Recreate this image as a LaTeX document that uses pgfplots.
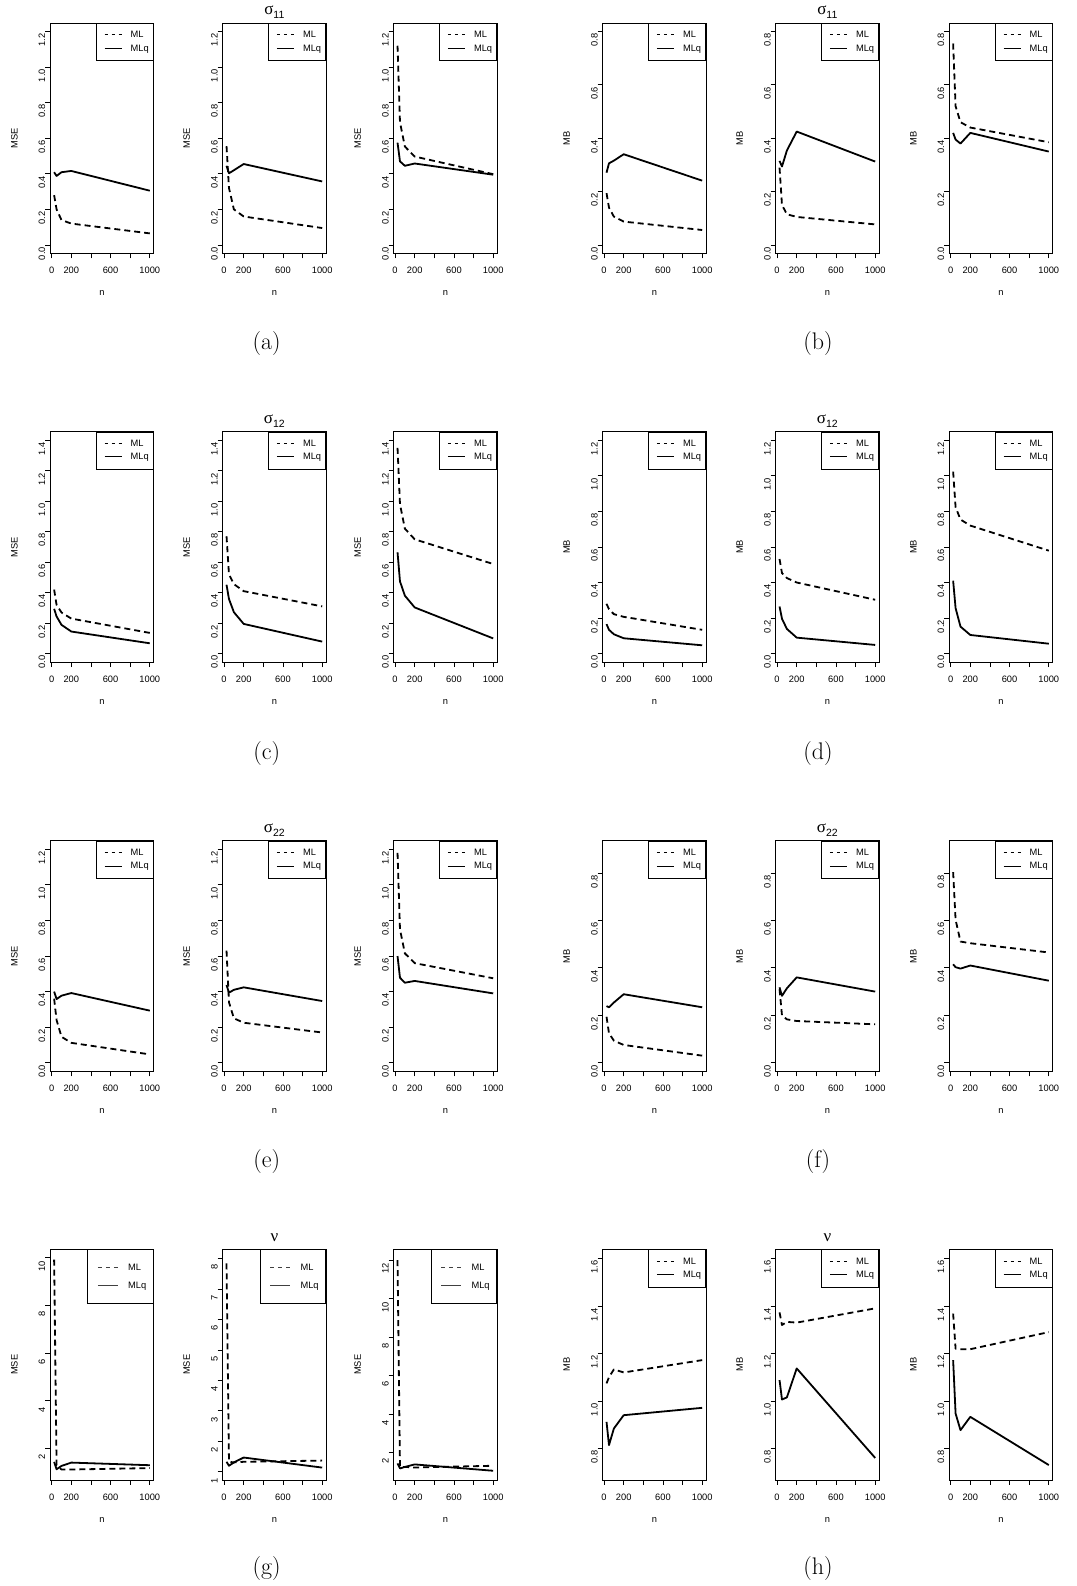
\documentclass[border=0pt]{standalone}
\usepackage{pgfplots}
\pgfplotsset{compat=1.18}
\usepackage{fontspec}
\newfontfamily\rfont{Liberation Sans}
\newfontfamily\grfont{Liberation Serif}
\newcommand\tickfont{\rfont\fontsize{9.3}{9.3}\selectfont}
\newcommand\gtitle[2]{{\grfont\fontsize{17}{17}\selectfont #1}\raisebox{-3.5pt}{\rfont\fontsize{10.5}{10.5}\selectfont #2}}
\pgfplotsset{
 rbase/.style={
  anchor=south west, scale only axis, width=103.3pt, height=230.5pt,
  xmin=-14, xmax=1039,
  xtick={0,200,400,600,800,1000}, xticklabels={0,200,,600,,1000},
  axis line style={line width=0.8pt},
  every tick/.style={black, line width=0.8pt},
  tick align=outside, major tick length=5pt,
  xtick pos=left, ytick pos=left,
  ticklabel style={font=\tickfont},
  xticklabel style={anchor=north, inner sep=0pt, text height=6.7pt, text depth=0pt, yshift=-8.6pt},
  yticklabel style={rotate=90, anchor=south, inner sep=0pt, text height=6.7pt, text depth=0pt, xshift=-8.6pt},
  every axis x label/.style={at={(axis description cs:0.5,-0.1735)}, anchor=center, font=\tickfont},
  every axis y label/.style={at={(axis description cs:-0.348,0.5)}, rotate=90, anchor=center, font=\tickfont},
  xlabel={n},
  every axis title/.style={at={(0.5,1)}, anchor=base, yshift=8pt},
  legend style={at={(1,1)}, anchor=north east, draw=black, line width=0.8pt, fill=white,
    inner xsep=4.5pt, inner ysep=6.8pt, row sep=3.3pt, column sep=8.4pt, font=\tickfont,
    cells={anchor=base west}, nodes={inner sep=0pt, text height=6.5pt, text depth=1.9pt}},
 },
 bigleg/.style={legend style={inner xsep=7pt, inner ysep=13pt, row sep=7.6pt, column sep=10pt}},
 ml/.style={black, line width=1.8pt, dash pattern=on 6pt off 4pt, line join=round,
   legend image code/.code={\path (0pt,-1.9pt) (0pt,6.5pt); \draw[black, line width=0.7pt, dash pattern=on 3.3pt off 3.7pt] (3.2pt,3pt) -- (20.5pt,3pt);}},
 mlq/.style={black, line width=1.8pt, line join=round,
   legend image code/.code={\path (0pt,-1.9pt) (0pt,6.5pt); \draw[black, line width=0.7pt] (3.2pt,3pt) -- (20.5pt,3pt);}},
 mlb/.style={black, line width=1.8pt, dash pattern=on 6pt off 4pt, line join=round,
   legend image code/.code={\path (0pt,-1.9pt) (0pt,6.5pt); \draw[black!75, line width=0.7pt, dash pattern=on 3.8pt off 4.3pt] (2pt,3pt) -- (22pt,3pt);}},
 mlqb/.style={black, line width=1.8pt, line join=round,
   legend image code/.code={\path (0pt,-1.9pt) (0pt,6.5pt); \draw[black!75, line width=0.7pt] (2pt,3pt) -- (22pt,3pt);}},
 mse12/.style={ymin=-0.048, ymax=1.248, ytick={0,0.2,0.4,0.6,0.8,1,1.2}, yticklabels={0.0,0.2,0.4,0.6,0.8,1.0,1.2}, ylabel={MSE}},
 mse14/.style={ymin=-0.056, ymax=1.456, ytick={0,0.2,0.4,0.6,0.8,1,1.2,1.4}, yticklabels={0.0,0.2,0.4,0.6,0.8,1.0,1.2,1.4}, ylabel={MSE}},
 mb08/.style={ymin=-0.032, ymax=0.832, ytick={0,0.2,0.4,0.6,0.8}, yticklabels={0.0,0.2,0.4,0.6,0.8}, ylabel={MB}},
 mb09/.style={ymin=-0.036, ymax=0.936, ytick={0,0.2,0.4,0.6,0.8}, yticklabels={0.0,0.2,0.4,0.6,0.8}, ylabel={MB}},
 mb12/.style={ymin=-0.048, ymax=1.248, ytick={0,0.2,0.4,0.6,0.8,1,1.2}, yticklabels={0.0,0.2,0.4,0.6,0.8,1.0,1.2}, ylabel={MB}},
 mseA/.style={ymin=0.68, ymax=10.35, ytick={2,4,6,8,10}, yticklabels={2,4,6,8,10}, ylabel={MSE}},
 mseB/.style={ymin=0.733, ymax=8.295, ytick={1,2,3,4,5,6,7,8}, yticklabels={1,2,3,4,5,6,7,8}, ylabel={MSE}},
 mseC/.style={ymin=0.57, ymax=12.556, ytick={2,4,6,8,10,12}, yticklabels={2,4,6,8,10,12}, ylabel={MSE}},
 mb16/.style={ymin=0.667, ymax=1.638, ytick={0.8,1,1.2,1.4,1.6}, yticklabels={0.8,1.0,1.2,1.4,1.6}, ylabel={MB}},
}
\begin{document}
\begin{tikzpicture}
\path[use as bounding box] (0pt,0pt) rectangle (1076pt,1586pt);
% ================= Row 1 =================
\begin{axis}[rbase, mse12, at={(50.3pt,1332.5pt)}]
\addplot[ml] coordinates {(25,0.28) (50,0.20) (100,0.14) (200,0.12) (1000,0.065)};
\addplot[mlq] coordinates {(25,0.409) (50,0.388) (100,0.409) (200,0.416) (1000,0.305)};
\legend{ML,MLq}
\end{axis}
\begin{axis}[rbase, mse12, at={(222.7pt,1332.5pt)}, title={\gtitle{σ}{11}}]
\addplot[ml] coordinates {(25,0.555) (50,0.32) (100,0.20) (200,0.16) (1000,0.095)};
\addplot[mlq] coordinates {(25,0.445) (50,0.403) (100,0.42) (200,0.455) (1000,0.357)};
\legend{ML,MLq}
\end{axis}
\begin{axis}[rbase, mse12, at={(393.7pt,1332.5pt)}]
\addplot[ml] coordinates {(25,1.12) (50,0.69) (100,0.553) (200,0.497) (1000,0.398)};
\addplot[mlq] coordinates {(25,0.575) (50,0.47) (100,0.445) (200,0.458) (1000,0.395)};
\legend{ML,MLq}
\end{axis}
\begin{axis}[rbase, mb08, at={(602.7pt,1332.5pt)}]
\addplot[ml] coordinates {(25,0.194) (50,0.14) (100,0.106) (200,0.0875) (1000,0.056)};
\addplot[mlq] coordinates {(25,0.271) (50,0.306) (100,0.316) (200,0.34) (1000,0.241)};
\legend{ML,MLq}
\end{axis}
\begin{axis}[rbase, mb08, at={(775.7pt,1332.5pt)}, title={\gtitle{σ}{11}}]
\addplot[ml] coordinates {(25,0.29) (50,0.15) (100,0.115) (200,0.105) (1000,0.077)};
\addplot[mlq] coordinates {(25,0.315) (50,0.294) (100,0.354) (200,0.425) (1000,0.3125)};
\legend{ML,MLq}
\end{axis}
\begin{axis}[rbase, mb08, at={(949.3pt,1332.5pt)}]
\addplot[ml] coordinates {(25,0.755) (50,0.52) (100,0.46) (200,0.44) (1000,0.385)};
\addplot[mlq] coordinates {(25,0.42) (50,0.395) (100,0.38) (200,0.42) (1000,0.35)};
\legend{ML,MLq}
\end{axis}
% ================= Row 2 =================
\begin{axis}[rbase, mse14, at={(50.3pt,923.8pt)}]
\addplot[ml] coordinates {(25,0.42) (50,0.32) (100,0.27) (200,0.23) (1000,0.136)};
\addplot[mlq] coordinates {(25,0.294) (50,0.244) (100,0.189) (200,0.145) (1000,0.068)};
\legend{ML,MLq}
\end{axis}
\begin{axis}[rbase, mse14, at={(222.7pt,923.8pt)}, title={\gtitle{σ}{12}}]
\addplot[ml] coordinates {(25,0.77) (50,0.52) (100,0.456) (200,0.41) (1000,0.31)};
\addplot[mlq] coordinates {(25,0.452) (50,0.358) (100,0.272) (200,0.195) (1000,0.079)};
\legend{ML,MLq}
\end{axis}
\begin{axis}[rbase, mse14, at={(393.7pt,923.8pt)}]
\addplot[ml] coordinates {(25,1.35) (50,0.98) (100,0.82) (200,0.75) (1000,0.588)};
\addplot[mlq] coordinates {(25,0.665) (50,0.474) (100,0.38) (200,0.303) (1000,0.10)};
\legend{ML,MLq}
\end{axis}
\begin{axis}[rbase, mb12, at={(602.7pt,923.8pt)}]
\addplot[ml] coordinates {(25,0.28) (50,0.25) (100,0.222) (200,0.207) (1000,0.134)};
\addplot[mlq] coordinates {(25,0.166) (50,0.134) (100,0.109) (200,0.0865) (1000,0.047)};
\legend{ML,MLq}
\end{axis}
\begin{axis}[rbase, mb12, at={(775.7pt,923.8pt)}, title={\gtitle{σ}{12}}]
\addplot[ml] coordinates {(25,0.532) (50,0.453) (100,0.425) (200,0.40) (1000,0.303)};
\addplot[mlq] coordinates {(25,0.265) (50,0.196) (100,0.139) (200,0.09) (1000,0.049)};
\legend{ML,MLq}
\end{axis}
\begin{axis}[rbase, mb12, at={(949.3pt,923.8pt)}]
\addplot[ml] coordinates {(25,1.023) (50,0.824) (100,0.754) (200,0.72) (1000,0.579)};
\addplot[mlq] coordinates {(25,0.41) (50,0.256) (100,0.152) (200,0.105) (1000,0.056)};
\legend{ML,MLq}
\end{axis}
% ================= Row 3 =================
\begin{axis}[rbase, mse12, at={(50.3pt,514.7pt)}]
\addplot[ml] coordinates {(25,0.36) (50,0.24) (100,0.146) (200,0.112) (1000,0.047)};
\addplot[mlq] coordinates {(25,0.40) (50,0.358) (100,0.377) (200,0.392) (1000,0.293)};
\legend{ML,MLq}
\end{axis}
\begin{axis}[rbase, mse12, at={(222.7pt,514.7pt)}, title={\gtitle{σ}{22}}]
\addplot[ml] coordinates {(25,0.63) (50,0.34) (100,0.25) (200,0.225) (1000,0.17)};
\addplot[mlq] coordinates {(25,0.437) (50,0.394) (100,0.41) (200,0.424) (1000,0.347)};
\legend{ML,MLq}
\end{axis}
\begin{axis}[rbase, mse12, at={(393.7pt,514.7pt)}]
\addplot[ml] coordinates {(25,1.18) (50,0.75) (100,0.615) (200,0.56) (1000,0.475)};
\addplot[mlq] coordinates {(25,0.60) (50,0.478) (100,0.45) (200,0.46) (1000,0.39)};
\legend{ML,MLq}
\end{axis}
\begin{axis}[rbase, mb09, at={(602.7pt,514.7pt)}]
\addplot[ml] coordinates {(25,0.194) (50,0.124) (100,0.093) (200,0.075) (1000,0.030)};
\addplot[mlq] coordinates {(25,0.239) (50,0.234) (100,0.254) (200,0.289) (1000,0.234)};
\legend{ML,MLq}
\end{axis}
\begin{axis}[rbase, mb09, at={(775.7pt,514.7pt)}, title={\gtitle{σ}{22}}]
\addplot[ml] coordinates {(25,0.31) (50,0.20) (100,0.183) (200,0.176) (1000,0.162)};
\addplot[mlq] coordinates {(25,0.318) (50,0.282) (100,0.314) (200,0.36) (1000,0.30)};
\legend{ML,MLq}
\end{axis}
\begin{axis}[rbase, mb09, at={(949.3pt,514.7pt)}]
\addplot[ml] coordinates {(25,0.804) (50,0.603) (100,0.511) (200,0.504) (1000,0.465)};
\addplot[mlq] coordinates {(25,0.415) (50,0.403) (100,0.397) (200,0.41) (1000,0.346)};
\legend{ML,MLq}
\end{axis}
% ================= Row 4 =================
\begin{axis}[rbase, bigleg, mseA, at={(50.3pt,106pt)}]
\addplot[mlb] coordinates {(25,9.92) (50,1.30) (100,1.12) (200,1.12) (1000,1.18)};
\addplot[mlqb] coordinates {(25,1.44) (50,1.13) (100,1.27) (200,1.41) (1000,1.30)};
\legend{ML,MLq}
\end{axis}
\begin{axis}[rbase, bigleg, mseB, at={(222.7pt,106pt)}, title={\gtitle{ν}{}}]
\addplot[mlb] coordinates {(25,7.84) (50,1.33) (100,1.31) (200,1.33) (1000,1.37)};
\addplot[mlqb] coordinates {(25,1.33) (50,1.20) (100,1.31) (200,1.47) (1000,1.14)};
\legend{ML,MLq}
\end{axis}
\begin{axis}[rbase, bigleg, mseC, at={(393.7pt,106pt)}]
\addplot[mlb] coordinates {(25,12.0) (50,1.25) (100,1.25) (200,1.22) (1000,1.31)};
\addplot[mlqb] coordinates {(25,1.43) (50,1.17) (100,1.25) (200,1.38) (1000,1.05)};
\legend{ML,MLq}
\end{axis}
\begin{axis}[rbase, mb16, at={(602.7pt,106pt)}]
\addplot[ml] coordinates {(25,1.074) (50,1.10) (100,1.133) (200,1.12) (1000,1.172)};
\addplot[mlq] coordinates {(25,0.912) (50,0.814) (100,0.884) (200,0.94) (1000,0.971)};
\legend{ML,MLq}
\end{axis}
\begin{axis}[rbase, mb16, at={(775.7pt,106pt)}, title={\gtitle{ν}{}}]
\addplot[ml] coordinates {(25,1.373) (50,1.32) (100,1.333) (200,1.33) (1000,1.39)};
\addplot[mlq] coordinates {(25,1.088) (50,1.006) (100,1.015) (200,1.137) (1000,0.76)};
\legend{ML,MLq}
\end{axis}
\begin{axis}[rbase, mb16, at={(949.3pt,106pt)}]
\addplot[ml] coordinates {(25,1.368) (50,1.22) (100,1.218) (200,1.218) (1000,1.29)};
\addplot[mlq] coordinates {(25,1.172) (50,0.947) (100,0.877) (200,0.933) (1000,0.73)};
\legend{ML,MLq}
\end{axis}
% ================= sub-figure labels =================
\begin{scope}[every node/.style={font=\fontsize{24}{24}\selectfont}]
\node at (266.7pt,1242pt) {(a)};
\node at (818pt,1242pt) {(b)};
\node at (266.7pt,832.5pt) {(c)};
\node at (818pt,832.5pt) {(d)};
\node at (266.7pt,424.3pt) {(e)};
\node at (818pt,424.3pt) {(f)};
\node at (266.7pt,17pt) {(g)};
\node at (818pt,17pt) {(h)};
\end{scope}
\end{tikzpicture}
\end{document}
